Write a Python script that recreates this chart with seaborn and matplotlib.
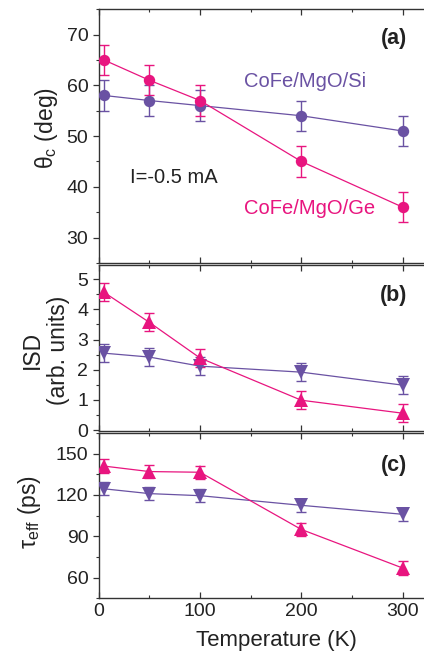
import matplotlib
matplotlib.use("Agg")
import matplotlib.pyplot as plt
import numpy as np
import pandas as pd
import seaborn as sns
from matplotlib.ticker import MultipleLocator

# Measurement temperatures (K)
temperature = [5, 50, 100, 200, 300]

# (a) cone angle theta_c (deg)
theta_si = [58, 57, 56, 54, 51]
theta_si_err = [3, 3, 3, 3, 3]
theta_ge = [65, 61, 57, 45, 36]
theta_ge_err = [3, 3, 3, 3, 3]

# (b) ISD (arb. units)
isd_si = [2.55, 2.42, 2.12, 1.92, 1.49]
isd_si_err = [0.3, 0.3, 0.3, 0.3, 0.3]
isd_ge = [4.57, 3.57, 2.39, 0.99, 0.56]
isd_ge_err = [0.3, 0.3, 0.3, 0.3, 0.3]

# (c) effective lifetime tau_eff (ps)
tau_si = [124.5, 121, 119.5, 112.5, 106]
tau_si_err = [4.8, 4.8, 4.8, 4.8, 4.8]
tau_ge = [141, 137, 136.5, 95, 67]
tau_ge_err = [4.8, 4.8, 4.8, 4.8, 4.8]

samples = ["CoFe/MgO/Si", "CoFe/MgO/Ge"]
colors = {"CoFe/MgO/Si": "#6a52a3", "CoFe/MgO/Ge": "#e8157f"}

sns.set_theme(style="ticks")
plt.rcParams["font.family"] = ["Liberation Sans", "DejaVu Sans"]
plt.rcParams["mathtext.fontset"] = "custom"
plt.rcParams["mathtext.rm"] = "Liberation Sans"
plt.rcParams["mathtext.it"] = "Liberation Sans:italic"
plt.rcParams["axes.edgecolor"] = "#333333"
plt.rcParams["text.color"] = "#222222"
plt.rcParams["axes.labelcolor"] = "#222222"
plt.rcParams["xtick.color"] = "#333333"
plt.rcParams["ytick.color"] = "#333333"
plt.rcParams["xtick.labelcolor"] = "#222222"
plt.rcParams["ytick.labelcolor"] = "#222222"


def frame(values_si, values_ge):
    return pd.DataFrame({
        "T": temperature * 2,
        "value": list(values_si) + list(values_ge),
        "sample": [samples[0]] * len(temperature) + [samples[1]] * len(temperature),
    })


fig = plt.figure(figsize=(4.24, 6.51), dpi=100)
left, width = 0.2328, 0.7765
ax_a = fig.add_axes([left, 0.596, width, 0.390])
ax_b = fig.add_axes([left, 0.3384, width, 0.2545])
ax_c = fig.add_axes([left, 0.0809, width, 0.254])

panels = [
    (ax_a, theta_si, theta_si_err, theta_ge, theta_ge_err,
     {samples[0]: "o", samples[1]: "o"}, 8.2),
    (ax_b, isd_si, isd_si_err, isd_ge, isd_ge_err,
     {samples[0]: "v", samples[1]: "^"}, 9.5),
    (ax_c, tau_si, tau_si_err, tau_ge, tau_ge_err,
     {samples[0]: "v", samples[1]: "^"}, 9.5),
]

for ax, ysi, esi, yge, ege, mk, ms in panels:
    df = frame(ysi, yge)
    for name, y, e in [(samples[0], ysi, esi), (samples[1], yge, ege)]:
        ax.errorbar(temperature, y, yerr=e, fmt="none", ecolor=colors[name],
                    elinewidth=1.0, capsize=3.8, capthick=1.0, zorder=2)
    sns.lineplot(data=df, x="T", y="value", hue="sample", style="sample",
                 hue_order=samples, style_order=samples, palette=colors,
                 markers=mk, dashes=False, linewidth=0.9, markersize=ms,
                 markeredgewidth=0, legend=False, ax=ax, zorder=3)
    ax.set_xlim(0, 325)
    ax.xaxis.set_major_locator(MultipleLocator(100))
    ax.xaxis.set_minor_locator(MultipleLocator(50))
    ax.tick_params(axis="x", which="both", direction="in", top=True, bottom=True)
    ax.tick_params(axis="y", which="both", direction="out", left=True, right=False)
    ax.tick_params(which="major", length=4, width=0.9, labelsize=14)
    ax.tick_params(which="minor", length=2.5, width=0.8)
    for s in ax.spines.values():
        s.set_linewidth(1.0)
    ax.set_xlabel("")
    ax.set_ylabel("")

# (a)
ax_a.set_ylim(25, 75)
ax_a.yaxis.set_major_locator(MultipleLocator(10))
ax_a.yaxis.set_minor_locator(MultipleLocator(5))
ax_a.tick_params(axis="x", labelbottom=False)
ax_a.set_ylabel("θ$_\\mathregular{c}$ (deg)", fontsize=16.5)
ax_a.yaxis.set_label_coords(-0.118, 0.53)
ax_a.text(0.938, 0.886, "(a)", transform=ax_a.transAxes, ha="right", va="center",
          fontsize=15.5, fontweight="bold")
ax_a.text(143, 60.7, "CoFe/MgO/Si", color=colors[samples[0]], fontsize=14.5,
          ha="left", va="center")
ax_a.text(143, 35.7, "CoFe/MgO/Ge", color=colors[samples[1]], fontsize=14.5,
          ha="left", va="center")
ax_a.text(31, 41.9, "I=-0.5 mA", fontsize=14.5, ha="left", va="center")

# (b)
ax_b.set_ylim(-0.02, 5.47)
ax_b.yaxis.set_major_locator(MultipleLocator(1))
ax_b.yaxis.set_minor_locator(MultipleLocator(0.5))
ax_b.tick_params(axis="x", labelbottom=False)
ax_b.set_ylabel("ISD\n(arb. units)", fontsize=16.5, linespacing=1.15)
ax_b.yaxis.set_label_coords(-0.087, 0.487)
ax_b.text(0.938, 0.819, "(b)", transform=ax_b.transAxes, ha="right", va="center",
          fontsize=15.5, fontweight="bold")

# (c)
ax_c.set_ylim(45, 165)
ax_c.yaxis.set_major_locator(MultipleLocator(30))
ax_c.yaxis.set_minor_locator(MultipleLocator(15))
ax_c.set_ylabel("τ$_\\mathregular{eff}$ (ps)", fontsize=16.5)
ax_c.yaxis.set_label_coords(-0.169, 0.524)
ax_c.set_xlabel("Temperature (K)", fontsize=16)
ax_c.xaxis.set_label_coords(0.539, -0.19)
ax_c.text(0.938, 0.806, "(c)", transform=ax_c.transAxes, ha="right", va="center",
          fontsize=15.5, fontweight="bold")

fig.savefig("out.png", dpi=100)
